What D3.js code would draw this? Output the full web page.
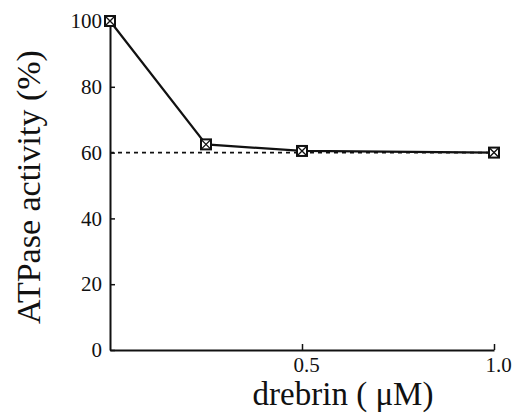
<!DOCTYPE html>
<html><head><meta charset="utf-8">
<script src="https://cdn.jsdelivr.net/npm/d3@7"></script>
</head>
<body style="margin:0;background:#fff">
<svg id="c" width="518" height="419"></svg>
<script>
const drebrin = [0, 0.25, 0.5, 1.0];
const activity = [100, 62.5, 60.5, 60];
const refLevel = 60;
const yTicks = [0, 20, 40, 60, 80, 100];
const xTicks = [0.5, 1.0];
const xTickLabels = ["0.5", "1.0"];

const FONT = '"Liberation Serif"';
const svg = d3.select("#c");
const x = d3.scaleLinear().domain([0, 1]).range([110, 494]);
const y = d3.scaleLinear().domain([0, 100]).range([350, 21]);

// Y axis
const ya = svg.append("g").attr("transform", `translate(${x(0)},0)`)
  .call(d3.axisLeft(y).tickValues(yTicks).tickSizeInner(-5).tickSizeOuter(0).tickPadding(8).tickFormat(d3.format("d")));
ya.select(".domain").attr("stroke", "#111").attr("stroke-width", 2);
ya.selectAll(".tick line").attr("stroke", "#111").attr("stroke-width", 1.5);
ya.selectAll(".tick text").style("font-family", FONT).style("font-size", "21px").attr("fill", "#111");

// X axis
const xa = svg.append("g").attr("transform", `translate(0,${y(0)})`)
  .call(d3.axisBottom(x).tickValues(xTicks).tickSizeInner(-6).tickSizeOuter(0).tickPadding(7)
    .tickFormat((d, i) => xTickLabels[i]));
xa.select(".domain").attr("stroke", "#111").attr("stroke-width", 2);
xa.selectAll(".tick line").attr("stroke", "#111").attr("stroke-width", 1.5);
xa.selectAll(".tick text").style("font-family", FONT).style("font-size", "21px").attr("fill", "#111")
  .attr("dx", 4);

// Dashed reference line
svg.append("line")
  .attr("x1", x(0)).attr("x2", x(1)).attr("y1", y(refLevel)).attr("y2", y(refLevel))
  .attr("stroke", "#111").attr("stroke-width", 1.6).attr("stroke-dasharray", "4,4");

// Data line
const pts = drebrin.map((d, i) => [d, activity[i]]);
svg.append("path").datum(pts)
  .attr("d", d3.line().x(d => x(d[0])).y(d => y(d[1])))
  .attr("fill", "none").attr("stroke", "#111").attr("stroke-width", 2.2);

// Markers: square with X
const m = svg.append("g").selectAll("g").data(pts).join("g")
  .attr("transform", d => `translate(${x(d[0])},${y(d[1])})`);
const s = 5;
m.append("rect").attr("x", -s).attr("y", -s).attr("width", 2 * s).attr("height", 2 * s)
  .attr("fill", "#fff").attr("stroke", "#111").attr("stroke-width", 2);
m.append("path").attr("d", `M${-s},${-s}L${s},${s}M${s},${-s}L${-s},${s}`)
  .attr("stroke", "#111").attr("stroke-width", 1.4);

// Axis titles
svg.append("text").attr("x", 343).attr("y", 405).attr("text-anchor", "middle")
  .style("font-family", FONT).style("font-size", "33px").attr("fill", "#111").text("drebrin ( μM)");
svg.append("text").attr("transform", "translate(40,187) rotate(-90)").attr("text-anchor", "middle")
  .style("font-family", FONT).style("font-size", "34px").attr("fill", "#111").text("ATPase activity (%)");
</script></body></html>
